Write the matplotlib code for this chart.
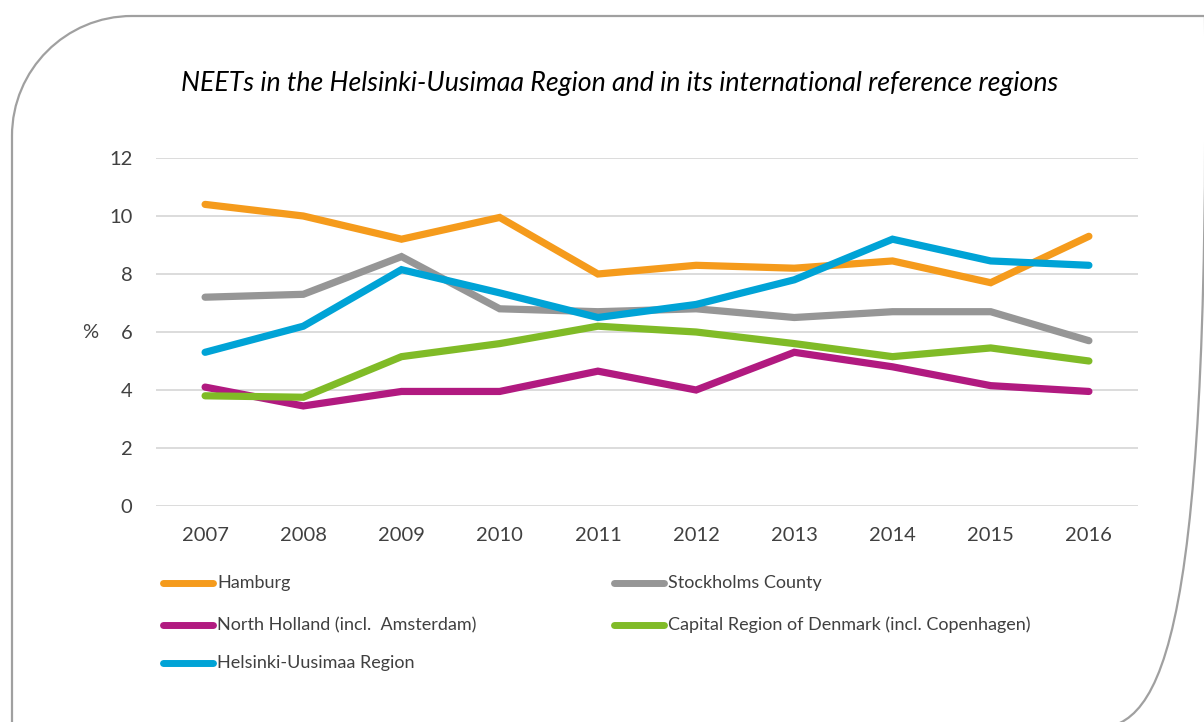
import matplotlib.pyplot as plt
from matplotlib.path import Path
from matplotlib.patches import PathPatch
from matplotlib.lines import Line2D

plt.rcParams["font.family"] = ["Lato", "DejaVu Sans"]

years = [2007, 2008, 2009, 2010, 2011, 2012, 2013, 2014, 2015, 2016]
hamburg = [10.4, 10.0, 9.2, 9.95, 8.0, 8.3, 8.2, 8.45, 7.7, 9.3]
north_holland = [4.1, 3.45, 3.95, 3.95, 4.65, 4.0, 5.3, 4.8, 4.15, 3.95]
stockholm = [7.2, 7.3, 8.6, 6.8, 6.7, 6.8, 6.5, 6.7, 6.7, 5.7]
copenhagen = [3.8, 3.75, 5.15, 5.6, 6.2, 6.0, 5.6, 5.15, 5.45, 5.0]
helsinki = [5.3, 6.2, 8.15, 7.35, 6.5, 6.95, 7.8, 9.2, 8.45, 8.3]

series = [
    ("Hamburg", hamburg, "#F59B1C"),
    ("North Holland (incl.  Amsterdam)", north_holland, "#B11A80"),
    ("Stockholms County", stockholm, "#969696"),
    ("Capital Region of Denmark (incl. Copenhagen)", copenhagen, "#80BB27"),
    ("Helsinki-Uusimaa Region", helsinki, "#00A3D6"),
]

W, H = 1204, 722
fig = plt.figure(figsize=(W / 100, H / 100), dpi=100)
ax = fig.add_axes([156 / W, 1 - 506 / H, (1138 - 156) / W, (506 - 158) / H])

x = list(range(len(years)))
for label, vals, col in series:
    ax.plot(x, vals, color=col, linewidth=5.2, solid_capstyle="round",
            solid_joinstyle="miter", label=label)

ax.set_xlim(-0.5, len(years) - 0.5)
ax.set_ylim(0, 12)
ax.set_yticks(range(0, 13, 2))
ax.set_xticks(x)
ax.set_xticklabels(years)
ax.tick_params(length=0, labelsize=14.5, labelcolor="#404040")
ax.tick_params(axis="y", pad=17)
ax.tick_params(axis="x", pad=15)
ax.grid(axis="y", color="#d9d9d9", linewidth=1.3)
ax.set_axisbelow(True)
for s in ax.spines.values():
    s.set_visible(False)

fig.text(90 / W, 1 - 333 / H, "%", fontsize=14.5, color="#404040",
         ha="center", va="center")
fig.text(620 / W, 1 - 83 / H,
         "NEETs in the Helsinki-Uusimaa Region and in its international reference regions",
         fontsize=19.3, style="italic", color="black", ha="center", va="center")

# legend, laid out row by row like the original
legend_pos = [(163, 583), (163, 625), (614, 583), (614, 625), (163, 663)]
for (label, vals, col), (lx, ly) in zip(series, legend_pos):
    fig.add_artist(Line2D([lx / W, (lx + 50) / W], [1 - ly / H, 1 - ly / H],
                          color=col, linewidth=5, solid_capstyle="round"))
    fig.text((lx + 54) / W, 1 - ly / H, label, fontsize=13, color="#404040",
             ha="left", va="center")

# rounded frame
L, T, R, B = 12, 16, 1210, 729
r1, r2 = 120, 120
k = 0.5523
pts = [
    (L, B + 5), (L, T + r1),
    (L, T + r1 - k * r1), (L + r1 - k * r1, T), (L + r1, T),
    (R, T), (R, B - r2),
    (R, B - r2 + k * r2), (R - r2 + k * r2, B), (R - r2, B),
]
codes = [Path.MOVETO, Path.LINETO, Path.CURVE4, Path.CURVE4, Path.CURVE4,
         Path.LINETO, Path.LINETO, Path.CURVE4, Path.CURVE4, Path.CURVE4]
verts = [(px / W, 1 - py / H) for px, py in pts]
fig.add_artist(PathPatch(Path(verts, codes), transform=fig.transFigure,
                         fill=False, edgecolor="#a0a0a0", linewidth=1.6))

fig.savefig("out.png", dpi=100)
